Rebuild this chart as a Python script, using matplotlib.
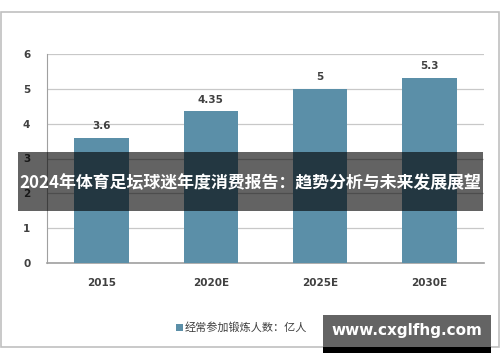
import matplotlib
matplotlib.use("Agg")
import matplotlib.pyplot as plt
from matplotlib.patches import Rectangle

categories = ["2015", "2020E", "2025E", "2030E"]
values = [3.6, 4.35, 5, 5.3]
value_labels = ["3.6", "4.35", "5", "5.3"]
yticks = [0, 1, 2, 3, 4, 5, 6]
legend_label = "经常参加锻炼人数：亿人"
title = "2024年体育足坛球迷年度消费报告：趋势分析与未来发展展望"
watermark = "www.cxglfhg.com"

plt.rcParams['font.family'] = ['Noto Sans CJK SC', 'DejaVu Sans']

W, H = 500, 362
fig = plt.figure(figsize=(W/100, H/100), dpi=100)

def fx(x): return x / W
def fy(y): return 1 - y / H

# outer border
fig.patches.append(Rectangle((fx(0.5), fy(347)), fx(498.5), (347-12)/H, transform=fig.transFigure,
                             fill=False, edgecolor="#c0c0c0", linewidth=1.2, zorder=0))

ax = fig.add_axes([fx(47), fy(263), fx(484-47), (263-54)/H])
bar_color = "#5b8fa8"
x = range(len(categories))
bars = ax.bar(x, values, width=0.5, color=bar_color, zorder=3, label=legend_label)
ax.set_xlim(-0.5, len(categories) - 0.5)
ax.set_ylim(0, 6)
ax.set_yticks(yticks)
ax.set_yticklabels([str(t) for t in yticks], fontsize=7.5, color="#404040", fontweight="bold",
                   family="DejaVu Sans")
ax.set_xticks(list(x))
ax.set_xticklabels(categories, fontsize=7.5, color="#404040", fontweight="bold", family="DejaVu Sans")
ax.tick_params(axis="y", length=0, pad=12)
ax.tick_params(axis="x", length=0, pad=11)
ax.yaxis.grid(True, color="#c8c8c8", linewidth=0.9, zorder=0)
for s in ["top", "right"]:
    ax.spines[s].set_visible(False)
ax.spines["left"].set_color("#a0a0a0")
ax.spines["bottom"].set_color("#a0a0a0")
ax.spines["bottom"].set_linewidth(1.2)

for xi, v, lbl in zip(x, values, value_labels):
    ax.text(xi, v + 0.2, lbl, ha="center", va="bottom", fontsize=7.5, color="#404040",
            fontweight="bold", family="DejaVu Sans")

# legend
fig.patches.append(Rectangle((fx(175.5), fy(331)), fx(7), 7/H, transform=fig.transFigure,
                             color=bar_color, linewidth=0, zorder=2))
fig.text(fx(185), fy(327), legend_label, fontsize=8, color="#404040", va="center", ha="left")

# title banner
fig.patches.append(Rectangle((fx(18), fy(211)), fx(483-18), (211-152)/H, transform=fig.transFigure,
                             facecolor="black", edgecolor="none", linewidth=0, alpha=0.61, zorder=5))
fig.text(fx(250.5), fy(183), title, fontsize=12.2, color="white", fontweight="bold",
         ha="center", va="center", zorder=6)

# watermark
fig.patches.append(Rectangle((fx(323), fy(347)), fx(491-323), (347-315)/H, transform=fig.transFigure,
                             facecolor="#646464", edgecolor="none", linewidth=0, zorder=5))
fig.patches.append(Rectangle((fx(323), fy(353)), fx(491-323), 6/H, transform=fig.transFigure,
                             facecolor="black", edgecolor="none", linewidth=0, zorder=5))
fig.text(fx(406.5), fy(330), watermark, fontsize=11, color="white", fontweight="bold",
         ha="center", va="center", zorder=6, family="DejaVu Sans")

fig.savefig("out.png", dpi=100)
